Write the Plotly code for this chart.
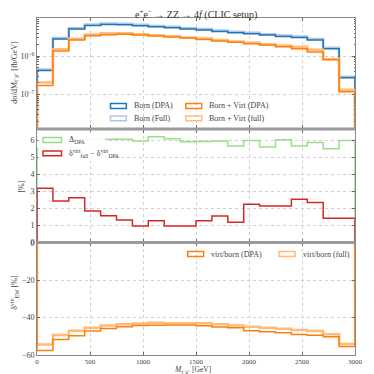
import plotly.graph_objects as go

edges = list(range(0, 3001, 150))

born_dpa = [4.2e-7, 2.78e-6, 5.07e-6, 6.3e-6, 6.7e-6, 6.6e-6, 6.2e-6, 5.8e-6, 5.5e-6, 5.07e-6,
            4.78e-6, 4.41e-6, 4.07e-6, 3.83e-6, 3.53e-6, 3.26e-6, 3.07e-6, 2.62e-6, 1.55e-6, 2.72e-7]
born_full = [4.45e-7, 2.95e-6, 5.37e-6, 6.68e-6, 7.1e-6, 7.0e-6, 6.57e-6, 6.15e-6, 5.83e-6, 5.37e-6,
             5.07e-6, 4.67e-6, 4.31e-6, 4.06e-6, 3.74e-6, 3.46e-6, 3.25e-6, 2.78e-6, 1.64e-6, 2.88e-7]
bv_dpa = [1.71e-7, 1.35e-6, 2.62e-6, 3.4e-6, 3.6e-6, 3.7e-6, 3.53e-6, 3.33e-6, 3.13e-6, 2.95e-6,
          2.72e-6, 2.46e-6, 2.28e-6, 2.1e-6, 1.94e-6, 1.75e-6, 1.55e-6, 1.27e-6, 8.0e-7, 1.17e-7]
bv_full = [2.03e-7, 1.5e-6, 2.84e-6, 3.65e-6, 3.96e-6, 3.95e-6, 3.73e-6, 3.52e-6, 3.32e-6, 3.06e-6,
           2.88e-6, 2.64e-6, 2.41e-6, 2.25e-6, 2.05e-6, 1.88e-6, 1.74e-6, 1.47e-6, 8.4e-7, 1.32e-7]

delta_dpa_pct = [5.51, 6.0, 6.03, 6.04, 6.04, 6.05, 5.94, 6.19, 6.07, 5.9,
                 5.92, 5.94, 5.65, 5.98, 5.59, 6.02, 5.65, 5.86, 5.49, 5.98]
dvirt_diff = [3.17, 2.42, 2.62, 1.84, 1.56, 1.31, 0.96, 1.27, 0.96, 0.96,
              1.27, 1.54, 1.17, 2.24, 2.13, 2.13, 2.52, 2.34, 1.41, 1.41]

virt_born_dpa = [-57.6, -51.7, -49.7, -47.2, -45.8, -44.9, -44.2, -44.1, -44.0, -44.0,
                 -44.4, -45.1, -45.4, -47.1, -47.6, -48.1, -49.1, -49.5, -50.3, -55.5]
virt_born_full = [-54.4, -49.3, -47.1, -45.4, -44.2, -43.6, -43.2, -42.8, -43.0, -43.0,
                  -43.1, -43.6, -44.2, -44.9, -45.5, -46.0, -46.6, -47.2, -48.9, -54.1]

xticks = [0, 500, 1000, 1500, 2000, 2500, 3000]

BLUE, LBLUE = "#1f77b4", "#aec7e8"
ORANGE, LORANGE = "#ff7f0e", "#ffbb78"
LGREEN, RED = "#98df8a", "#d62728"
FONT = "Liberation Serif"


def step(vals, base):
    x = [edges[0]] + edges + [edges[-1]]
    y = [base] + list(vals) + [vals[-1]] + [base]
    return x, y


fig = go.Figure()


def add(vals, base, color, width, xa, ya):
    x, y = step(vals, base)
    fig.add_trace(go.Scatter(x=x, y=y, mode="lines", line=dict(color=color, width=width, shape="hv"),
                             xaxis=xa, yaxis=ya, showlegend=False, hoverinfo="skip"))


# top panel
add(born_full, 1e-10, LBLUE, 2.5, "x", "y")
add(born_dpa, 1e-10, BLUE, 1.5, "x", "y")
add(bv_full, 1e-10, LORANGE, 2.5, "x", "y")
add(bv_dpa, 1e-10, ORANGE, 1.5, "x", "y")
# middle panel
add(delta_dpa_pct, 0, LGREEN, 1.5, "x2", "y2")
add(dvirt_diff, 0, RED, 1.5, "x2", "y2")
# bottom panel
add(virt_born_full, 0, LORANGE, 2.5, "x3", "y3")
add(virt_born_dpa, 0, ORANGE, 1.5, "x3", "y3")

common_ax = dict(showline=True, linecolor="#888", linewidth=1, mirror="ticks", ticks="inside",
                 ticklen=3, tickcolor="#666", showgrid=True, gridcolor="#d0d0d0", griddash="dot",
                 gridwidth=0.7, zeroline=False, automargin=False,
                 tickfont=dict(family=FONT, size=8, color="#444"))

xcommon = dict(common_ax, range=[0, 3000], tickvals=xticks)
minor_log = [m * 10.0 ** e for e in (-8, -7, -6) for m in range(2, 10)]

# page body adds an 8px offset, so the figure is 366 px and margins are reduced by 8
fig.update_layout(
    width=366, height=366,
    margin=dict(l=29, r=19, t=10, b=19),
    paper_bgcolor="white", plot_bgcolor="white",
    showlegend=False,
    xaxis=dict(xcommon, anchor="y", domain=[0, 1], showticklabels=False),
    xaxis2=dict(xcommon, anchor="y2", domain=[0, 1], matches="x", showticklabels=False),
    xaxis3=dict(xcommon, anchor="y3", domain=[0, 1], matches="x", showticklabels=True,
                ticktext=[str(v) for v in xticks], ticklabelstandoff=0,
                tickfont=dict(family=FONT, size=7, color="#444")),
    yaxis=dict(common_ax, type="log", range=[-7.88, -5.005], domain=[0.6736, 1], anchor="x",
               tickvals=[1e-7, 1e-6], ticktext=["10<sup>−7</sup>", "10<sup>−6</sup>"],
               minor=dict(tickvals=minor_log, ticks="inside", ticklen=1.5, tickcolor="#666", showgrid=False)),
    yaxis2=dict(common_ax, range=[0, 6.59], domain=[0.3344, 0.6677], anchor="x2",
                tickvals=[0, 1, 2, 3, 4, 5, 6]),
    yaxis3=dict(common_ax, range=[-60, 0], domain=[0, 0.3332], anchor="x3",
                tickvals=[-60, -40, -20, 0], ticktext=["−60", "−40", "−20", "0"]),
)

shapes = []
annotations = []

# thick separators between panels
for yp in (0.6706, 0.3338):
    shapes.append(dict(type="line", xref="paper", yref="paper", x0=0, x1=1, y0=yp, y1=yp,
                       line=dict(color="#9a9a9a", width=3), layer="above"))

# middle legend white box
shapes.append(dict(type="rect", xref="x2 domain", yref="y2 domain", x0=0.004, x1=0.215, y0=0.725, y1=0.985,
                   fillcolor="rgba(255,255,255,0.9)", line=dict(width=0), layer="above"))


def leg(xd, yd, color, width, text, xr, yr, hh=0.022, w=0.05):
    shapes.append(dict(type="rect", xref=xr, yref=yr, x0=xd, x1=xd + w, y0=yd - hh, y1=yd + hh,
                       line=dict(color=color, width=width), fillcolor="rgba(0,0,0,0)", layer="above"))
    annotations.append(dict(xref=xr, yref=yr, x=xd + w + 0.018, y=yd, text=text, showarrow=False,
                            xanchor="left", yanchor="middle",
                            font=dict(family=FONT, size=8, color="#444")))


# top legend
leg(0.231, 0.20, BLUE, 1.5, "Born (DPA)", "x domain", "y domain")
leg(0.231, 0.088, LBLUE, 1.5, "Born (Full)", "x domain", "y domain")
leg(0.468, 0.20, ORANGE, 1.5, "Born + Virt (DPA)", "x domain", "y domain")
leg(0.468, 0.088, LORANGE, 1.5, "Born + Virt (full)", "x domain", "y domain")
# middle legend
leg(0.019, 0.911, LGREEN, 1.5, "Δ<sub>DPA</sub>", "x2 domain", "y2 domain", w=0.058)
leg(0.019, 0.792, RED, 1.5, "δ<sup>virt</sup><sub>full</sub> − δ<sup>virt</sup><sub>DPA</sub>",
    "x2 domain", "y2 domain", w=0.058)
# bottom legend
leg(0.474, 0.899, ORANGE, 1.5, "virt/born (DPA)", "x3 domain", "y3 domain")
leg(0.761, 0.899, LORANGE, 1.5, "virt/born (full)", "x3 domain", "y3 domain")

# title
annotations.append(dict(xref="paper", yref="paper", x=0.5, y=1.011, text="e<sup>+</sup>e<sup>−</sup> → ZZ → 4<i>f</i> (CLIC setup)",
                        showarrow=False, xanchor="center", yanchor="middle",
                        font=dict(family=FONT, size=10, color="#333")))
# axis titles
annotations.append(dict(xref="paper", yref="paper", x=-0.07, y=0.84,
                        text="dσ/dM<sub>τ⁻μ⁺</sub> [fb/GeV]", textangle=-90, showarrow=False,
                        xanchor="center", yanchor="middle", font=dict(family=FONT, size=8, color="#444")))
annotations.append(dict(xref="paper", yref="paper", x=-0.05, y=0.5, text="[%]", textangle=-90,
                        showarrow=False, xanchor="center", yanchor="middle",
                        font=dict(family=FONT, size=8, color="#444")))
annotations.append(dict(xref="paper", yref="paper", x=-0.07, y=0.187,
                        text="δ<sup>virt</sup><sub>EW</sub> [%]", textangle=-90, showarrow=False,
                        xanchor="center", yanchor="middle", font=dict(family=FONT, size=8, color="#444")))
annotations.append(dict(xref="paper", yref="paper", x=0.49, y=-0.0225,
                        text="<i>M</i><sub>τ⁻μ⁺</sub> [GeV]", showarrow=False,
                        xanchor="center", yanchor="top", font=dict(family=FONT, size=7.5, color="#444")))

fig.update_layout(shapes=shapes, annotations=annotations)
fig.write_html("out.html")
